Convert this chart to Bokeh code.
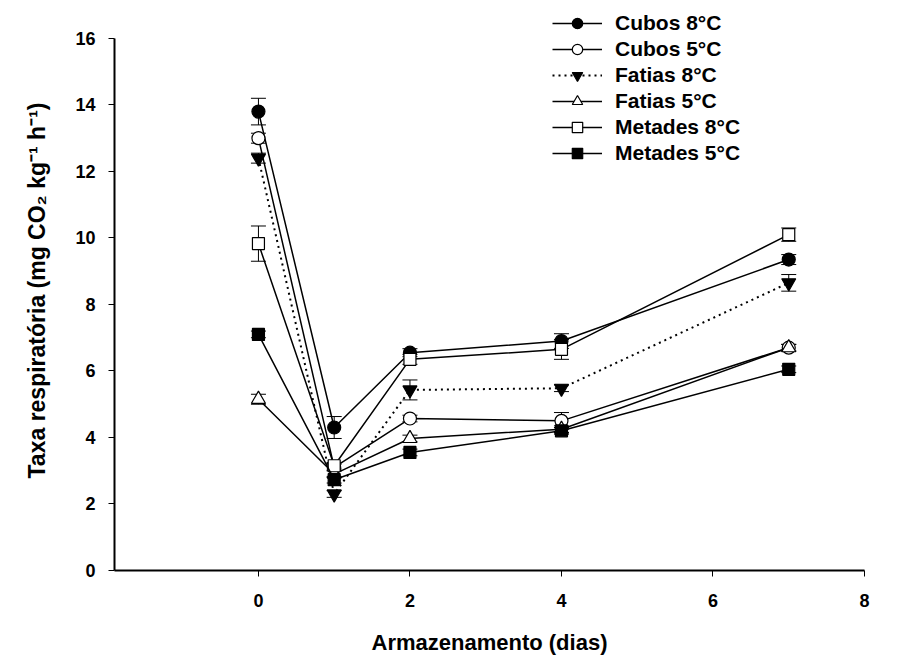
from bokeh.plotting import figure
from bokeh.models import (Range1d, FixedTicker, Whisker, TeeHead, ColumnDataSource,
                          Legend, LegendItem)
from bokeh.embed import file_html
from bokeh.resources import INLINE

# ---- data ----
days = [0, 1, 2, 4, 7]
x_ticks = [0, 2, 4, 6, 8]
y_ticks = [0, 2, 4, 6, 8, 10, 12, 14, 16]

cubos8 = [13.8, 4.3, 6.55, 6.9, 9.35]
cubos8_err = [0.4, 0.33, 0.12, 0.22, 0.15]
cubos5 = [13.0, 3.1, 4.57, 4.5, 6.7]
cubos5_err = [0.15, 0.1, 0.1, 0.25, 0.1]
fatias8 = [12.4, 2.3, 5.43, 5.48, 8.65]
fatias8_err = [0.15, 0.1, 0.3, 0.1, 0.25]
fatias5 = [5.15, 2.9, 3.97, 4.25, 6.7]
fatias5_err = [0.15, 0.1, 0.1, 0.1, 0.1]
metades8 = [9.83, 3.15, 6.35, 6.65, 10.1]
metades8_err = [0.53, 0.1, 0.15, 0.3, 0.2]
metades5 = [7.1, 2.73, 3.55, 4.2, 6.05]
metades5_err = [0.1, 0.1, 0.1, 0.1, 0.1]

labels = ["Cubos 8°C", "Cubos 5°C", "Fatias 8°C", "Fatias 5°C", "Metades 8°C", "Metades 5°C"]

FONT = "Liberation Sans"

# frame runs a little above 16 so the legend (which sits above the axis top) is not clipped
p = figure(width=900, height=657, output_backend="svg", toolbar_location=None,
           x_range=Range1d(-1.9, 8), y_range=Range1d(0, 16.84),
           min_border_left=114, min_border_right=36, min_border_top=10,
           min_border_bottom=86)
p.outline_line_color = None
p.grid.visible = False
p.background_fill_color = "white"

for ax in (p.xaxis[0], p.yaxis[0]):
    ax.axis_line_width = 2
    ax.axis_line_color = "black"
    ax.major_tick_line_color = "black"
    ax.major_tick_line_width = 1
    ax.major_tick_out = 6
    ax.major_tick_in = 0
    ax.minor_tick_line_color = None
    ax.major_label_text_font = FONT
    ax.major_label_text_font_style = "bold"
    ax.major_label_text_font_size = "18px"
    ax.major_label_text_color = "black"
    ax.axis_label_text_font = FONT
    ax.axis_label_text_font_style = "bold"
    ax.axis_label_text_color = "black"

p.xaxis[0].axis_label_text_font_size = "22px"
p.yaxis[0].axis_label_text_font_size = "23px"
p.xaxis[0].ticker = FixedTicker(ticks=x_ticks)
p.yaxis[0].ticker = FixedTicker(ticks=y_ticks)
p.yaxis[0].bounds = (0, 16)
p.xaxis[0].axis_label = "Armazenamento (dias)"
p.yaxis[0].axis_label = "Taxa respiratória (mg CO₂ kg⁻¹ h⁻¹)"
p.xaxis[0].major_label_standoff = 17
p.xaxis[0].axis_label_standoff = 20
p.yaxis[0].major_label_standoff = 13
p.yaxis[0].axis_label_standoff = 22

series = [
    (cubos8, cubos8_err, "circle", "black", "solid", 13),
    (cubos5, cubos5_err, "circle", "white", "solid", 13),
    (fatias8, fatias8_err, "inverted_triangle", "black", "2 4", 14),
    (fatias5, fatias5_err, "triangle", "white", "solid", 14),
    (metades8, metades8_err, "square", "white", "solid", 12),
    (metades5, metades5_err, "square", "black", "solid", 12),
]

items = []
for (vals, errs, marker, fill, dash, size), lab in zip(series, labels):
    src = ColumnDataSource(dict(
        x=days, y=vals,
        upper=[v + e for v, e in zip(vals, errs)],
        lower=[v - e for v, e in zip(vals, errs)],
    ))
    w = Whisker(source=src, base="x", upper="upper", lower="lower",
                line_color="black", line_width=1,
                upper_head=TeeHead(size=15, line_color="black", line_width=1),
                lower_head=TeeHead(size=15, line_color="black", line_width=1))
    w.level = "underlay"
    p.add_layout(w)
    lw = 2 if dash != "solid" else 1.5
    lr = p.line("x", "y", source=src, line_color="black", line_width=lw, line_dash=dash)
    sr = p.scatter("x", "y", source=src, marker=marker, size=size,
                   fill_color=fill, line_color="black", line_width=1.2)
    items.append(LegendItem(label=lab, renderers=[lr, sr]))

legend = Legend(items=items, location=(438, 404))
legend.background_fill_alpha = 0
legend.border_line_color = None
legend.label_text_font = FONT
legend.label_text_font_style = "bold"
legend.label_text_font_size = "21px"
legend.label_text_color = "black"
legend.glyph_width = 50
legend.glyph_height = 26
legend.label_height = 26
legend.spacing = 0
legend.padding = 0
legend.margin = 0
legend.label_standoff = 13
p.add_layout(legend)

open("out.html", "w").write(file_html(p, INLINE))
